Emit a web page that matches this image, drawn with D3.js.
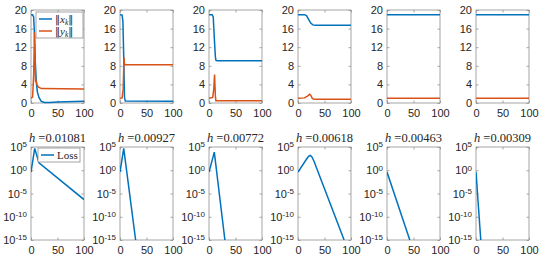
<!DOCTYPE html>
<html lang="en">
<head>
    <meta charset="UTF-8">
    <script src="https://cdn.jsdelivr.net/npm/d3@7"></script>
    <style>
        body { margin: 0; background: #fff; }
        svg { display: block; }
        .tick text { font-family: "Liberation Sans", Arial, sans-serif; font-size: 11px; fill: #262626; }
    </style>
</head>
<body>
<div id="chart"></div>
<script>
    // DATA:

    // step sizes, one per column
    const H_VALUES = ["0.01081", "0.00927", "0.00772", "0.00618", "0.00463", "0.00309"];
    const X_TICKS = [0, 50, 100];
    const NORM_TICKS = [0, 4, 8, 12, 16, 20];
    const LOSS_TICKS = [-15, -10, -5, 0, 5];   // exponents of 10

    // ||x_k|| per column, [k, value]
    const X_NORM = [
        [[0, 19], [3, 19], [5, 18.5], [6.5, 15], [8, 9], [10, 4.5], [12, 2.4], [15, 1.2], [19, 0.4], [25, 0.1], [35, 0.1], [50, 0.2], [100, 0.35]],
        [[0, 19], [4, 18.9], [5.5, 17.5], [7, 10], [8.5, 1.2], [10, 0.45], [100, 0.4]],
        [[0, 19], [6, 19], [8, 18.5], [10, 14], [12, 10], [13, 9.2], [15, 9.1], [100, 9.1]],
        [[0, 19], [12, 19], [16, 18.8], [20, 18], [24, 17.2], [28, 16.8], [32, 16.7], [100, 16.7]],
        [[0, 19], [100, 19]],
        [[0, 19], [100, 19]]
    ];
    // ||y_k|| per column, [k, value]
    const Y_NORM = [
        [[0, 1], [3, 1.3], [5, 6], [6.5, 15.2], [7.5, 10], [8.5, 4.6], [9.5, 5], [11, 4], [14, 3.4], [20, 3.1], [100, 3.0]],
        [[0, 1], [4, 1.1], [6, 3], [7.5, 9.8], [8.5, 8.3], [100, 8.2]],
        [[0, 1], [7, 1.2], [9, 3], [10.5, 6.1], [12, 1.5], [13, 0.5], [100, 0.5]],
        [[0, 1], [12, 1.1], [18, 1.5], [22, 1.9], [24, 1.7], [27, 1.0], [30, 0.8], [100, 0.8]],
        [[0, 1], [100, 1]],
        [[0, 1], [100, 1]]
    ];
    // log10(Loss) per column, [k, value]
    const LOSS = [
        [[0, -0.4], [7, 4.7], [15, 1.6], [100, -6.3]],
        [[0, -0.4], [7, 4.7], [29.5, -15]],
        [[0, -0.4], [10, 3.9], [30, -15]],
        [[0, -0.4], [15, 2.2], [20, 3.0], [23, 3.2], [26, 2.9], [30, 2.0], [87, -15]],
        [[0, -0.4], [43, -15]],
        [[0, -0.4], [9, -15]]
    ];

    // LAYOUT:

    const WIDTH = 548;
    const HEIGHT = 256;
    const PANEL_W = 53;
    const PANEL_STEP = 89;
    const LEFT0 = 31;
    const TOP_ROW = [10, 103];     // y of top / bottom edge
    const BOT_ROW = [147, 240];
    const BLUE = "#0072BD";
    const ORANGE = "#D95319";
    const AXIS_GREY = "#8f8f8f";
    const SERIF = "'Liberation Serif', 'DejaVu Serif', serif";

    const svg = d3.select("#chart").append("svg")
        .attr("width", WIDTH)
        .attr("height", HEIGHT);

    // draws one boxed axes in MATLAB style (ticks inside, on all four sides)
    function drawAxes(g, x, y, yTicks, yFormat, logRow) {
        const [x0, x1] = x.range();
        const [y0, y1] = y.range();
        g.append("rect")
            .attr("x", x0).attr("y", y1)
            .attr("width", x1 - x0).attr("height", y0 - y1)
            .attr("fill", "none").attr("stroke", AXIS_GREY).attr("stroke-width", 0.8);

        const xAxis = g.append("g")
            .attr("transform", `translate(0,${y0})`)
            .call(d3.axisBottom(x).tickValues(X_TICKS).tickSize(-2.5).tickPadding(5).tickSizeOuter(0));
        const xTop = g.append("g")
            .attr("transform", `translate(0,${y1})`)
            .call(d3.axisTop(x).tickValues(X_TICKS).tickSize(-2.5).tickSizeOuter(0));
        xTop.selectAll("text").remove();

        const yAxis = g.append("g")
            .attr("transform", `translate(${x0},0)`)
            .call(d3.axisLeft(y).tickValues(yTicks).tickSize(-2.5).tickPadding(4).tickSizeOuter(0).tickFormat(yFormat));
        const yRight = g.append("g")
            .attr("transform", `translate(${x1},0)`)
            .call(d3.axisRight(y).tickValues(yTicks).tickSize(-2.5).tickSizeOuter(0));
        yRight.selectAll("text").remove();

        [xAxis, xTop, yAxis, yRight].forEach(a => {
            a.select(".domain").remove();
            a.selectAll("line").attr("stroke", AXIS_GREY).attr("stroke-width", 0.8);
        });
        xAxis.selectAll("text").attr("dy", "0.85em");

        // log row: 10 with a raised exponent
        if (logRow) {
            yAxis.selectAll("text").text(null).each(function (d) {
                const t = d3.select(this);
                t.append("tspan").text("10");
                t.append("tspan").attr("dy", "-0.45em").attr("font-size", "8px").text(d);
            });
        }
        return g;
    }

    const line = (x, y) => d3.line().x(d => x(d[0])).y(d => y(d[1]));

    H_VALUES.forEach((h, i) => {
        const left = LEFT0 + i * PANEL_STEP;
        const x = d3.scaleLinear().domain([0, 100]).range([left, left + PANEL_W]);

        // TOP ROW: norms of x_k and y_k
        const yTop = d3.scaleLinear().domain([0, 20]).range([TOP_ROW[1], TOP_ROW[0]]);
        const gTop = svg.append("g");
        drawAxes(gTop, x, yTop, NORM_TICKS, d3.format("d"), false);
        gTop.append("path").datum(X_NORM[i])
            .attr("d", line(x, yTop)).attr("fill", "none")
            .attr("stroke", BLUE).attr("stroke-width", 1.5);
        gTop.append("path").datum(Y_NORM[i])
            .attr("d", line(x, yTop)).attr("fill", "none")
            .attr("stroke", ORANGE).attr("stroke-width", 1.5);

        // BOTTOM ROW: loss on a log axis
        const yBot = d3.scaleLinear().domain([-15, 5]).range([BOT_ROW[1], BOT_ROW[0]]);
        const gBot = svg.append("g");
        gBot.append("clipPath").attr("id", "clip" + i)
            .append("rect").attr("x", left).attr("y", BOT_ROW[0])
            .attr("width", PANEL_W).attr("height", BOT_ROW[1] - BOT_ROW[0]);
        drawAxes(gBot, x, yBot, LOSS_TICKS, d => d, true);
        gBot.append("path").datum(LOSS[i])
            .attr("clip-path", `url(#clip${i})`)
            .attr("d", line(x, yBot)).attr("fill", "none")
            .attr("stroke", BLUE).attr("stroke-width", 1.5);

        // title  h =...
        const title = gBot.append("text")
            .attr("x", left + PANEL_W / 2).attr("y", BOT_ROW[0] - 5)
            .attr("text-anchor", "middle")
            .attr("font-family", SERIF).attr("font-size", "12.5px").attr("fill", "#262626");
        title.append("tspan").attr("font-style", "italic").text("h");
        title.append("tspan").text(" =" + h);
    });

    // LEGENDS:

    function legend(left, top, w, rowH, entries) {
        const g = svg.append("g");
        g.append("rect")
            .attr("x", left).attr("y", top)
            .attr("width", w).attr("height", entries.length * rowH + 2)
            .attr("fill", "#fff").attr("stroke", AXIS_GREY).attr("stroke-width", 0.8);
        entries.forEach((e, j) => {
            const cy = top + 1 + rowH / 2 + j * rowH;
            g.append("line")
                .attr("x1", left + 3).attr("x2", left + 16)
                .attr("y1", cy).attr("y2", cy)
                .attr("stroke", e.color).attr("stroke-width", 1.5);
            const t = g.append("text")
                .attr("x", left + 19).attr("y", cy + 3.5)
                .attr("font-family", SERIF).attr("font-size", "11px").attr("fill", "#262626");
            e.build(t);
        });
    }

    // ||x_k|| label, double bars from DejaVu
    const normLabel = v => t => {
        t.append("tspan").attr("font-family", "'DejaVu Sans'").attr("font-size", "10px").text("\u2016");
        t.append("tspan").attr("font-style", "italic").text(v);
        t.append("tspan").attr("font-style", "italic").attr("font-size", "7.5px").attr("dy", "2").text("k");
        t.append("tspan").attr("font-family", "'DejaVu Sans'").attr("font-size", "10px").attr("dy", "-2").text("\u2016");
    };

    legend(36, 12, 47, 12, [
        { color: BLUE, build: normLabel("x") },
        { color: ORANGE, build: normLabel("y") }
    ]);
    legend(38, 148, 42, 12, [
        { color: BLUE, build: t => t.text("Loss") }
    ]);
</script>
</body>
</html>
